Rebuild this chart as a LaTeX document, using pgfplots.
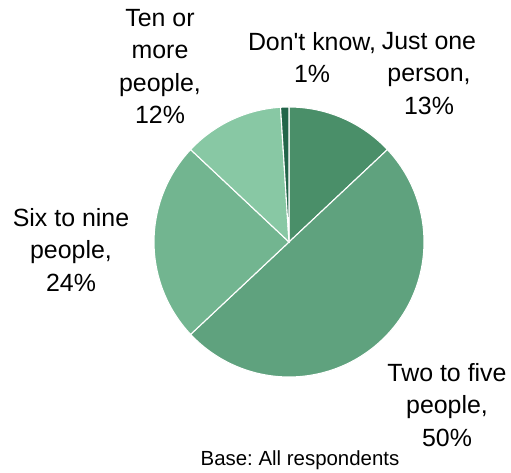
\documentclass[border=0pt]{standalone}
\usepackage{pgfplots}
\pgfplotsset{compat=1.18}
\usepgfplotslibrary{polar}
\usepackage{fontspec}
\setmainfont{Liberation Sans}
\frenchspacing
\definecolor{cJust}{HTML}{4A8F69}
\definecolor{cTwo}{HTML}{5FA27E}
\definecolor{cSix}{HTML}{72B590}
\definecolor{cTen}{HTML}{88C8A4}
\definecolor{cDK}{HTML}{22654A}
% shares (%)
\def\vJust{13}
\def\vTwo{50}
\def\vSix{24}
\def\vTen{12}
\def\vDK{1}
\pgfmathsetmacro{\aA}{90}
\pgfmathsetmacro{\aB}{\aA-3.6*\vJust}
\pgfmathsetmacro{\aC}{\aB-3.6*\vTwo}
\pgfmathsetmacro{\aD}{\aC-3.6*\vSix}
\pgfmathsetmacro{\aE}{\aD-3.6*\vTen}
\pgfmathsetmacro{\aF}{\aE-3.6*\vDK}
\begin{document}
\begin{tikzpicture}[x=1bp,y=1bp]
\useasboundingbox (0,0) rectangle (511,473);
\begin{polaraxis}[
  at={(289bp,231bp)}, anchor=center,
  scale only axis, width=270bp, height=270bp,
  ymin=0, ymax=135, hide axis, clip=false,
]
\addplot[fill=cJust, draw=white, line width=1.1pt, domain=\aB:\aA, samples=60] {135} -- (axis cs:0,0) -- cycle;
\addplot[fill=cTwo, draw=white, line width=1.1pt, domain=\aC:\aB, samples=120] {135} -- (axis cs:0,0) -- cycle;
\addplot[fill=cSix, draw=white, line width=1.1pt, domain=\aD:\aC, samples=60] {135} -- (axis cs:0,0) -- cycle;
\addplot[fill=cTen, draw=white, line width=1.1pt, domain=\aE:\aD, samples=40] {135} -- (axis cs:0,0) -- cycle;
\addplot[fill=cDK, draw=white, line width=1.1pt, domain=\aF:\aE, samples=10] {135} -- (axis cs:0,0) -- cycle;
\end{polaraxis}
\tikzset{lbl/.style={anchor=north, inner sep=0pt, align=center, font=\fontsize{25}{32.5}\selectfont}}
\node[lbl] at (160,473-9) {Ten or\\more\\people,\\12\%};
\node[lbl] at (312,473-32) {Don\textquotesingle t know,\\1\%};
\node[lbl] at (429,473-32) {Just one\\person,\\13\%};
\node[lbl] at (71,473-208) {Six to nine\\people,\\24\%};
\node[lbl] at (447,473-363) {Two to five\\people,\\50\%};
\node[anchor=north, inner sep=0pt, font=\fontsize{20.5}{24}\selectfont] at (300,473-450.7) {Base: All respondents};
\end{tikzpicture}
\end{document}
